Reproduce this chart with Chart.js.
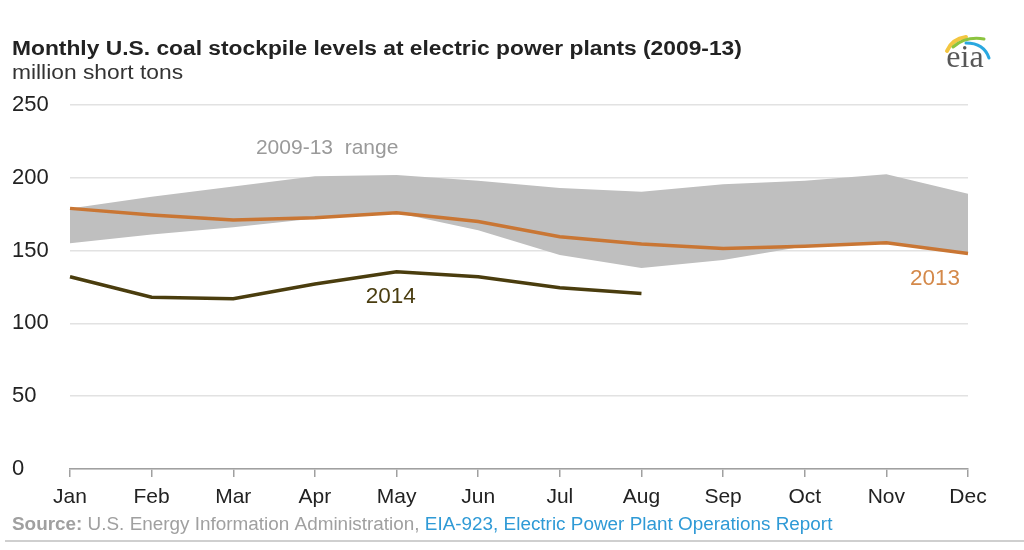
<!DOCTYPE html>
<html>
<head>
<meta charset="utf-8">
<script src="https://cdn.jsdelivr.net/npm/chart.js@4"></script>
<style>
  html, body { margin: 0; padding: 0; background: #fff; }
  #grafico { display: block; }
</style>
</head>
<body>
<canvas id="grafico" width="1024" height="550"></canvas>
<script>
const meses = ['Jan', 'Feb', 'Mar', 'Apr', 'May', 'Jun', 'Jul', 'Aug', 'Sep', 'Oct', 'Nov', 'Dec']
const faixaMin = [155, 161, 166, 172, 176, 164, 147, 138, 143.5, 153, 155.4, 148]
const faixaMax = [179, 187, 194, 201, 202, 198, 193, 190.5, 195.5, 198, 202.5, 189]
const estoque2013 = [179, 174.5, 171, 172.5, 176, 170, 159.5, 154.5, 151.5, 153, 155.4, 148]
const estoque2014 = [132, 118, 117, 127, 135.5, 132, 124.5, 120.5]
const ticksY = [0, 50, 100, 150, 200, 250]

const fonte = '"Liberation Sans", Arial, sans-serif'

// rotulos em coordenadas de dados (indice do mes, valor)
const rotulos = [
  { texto: '2009-13  range', mes: 3.15, valor: 220.5, cor: '#9a9a9a', alinha: 'center', tamanho: 21 },
  { texto: '2014', mes: 3.93, valor: 118, cor: '#4a3d10', alinha: 'center', tamanho: 22.5 },
  { texto: '2013', mes: 11, valor: 130.5, cor: '#d4894a', alinha: 'right', dx: -8, tamanho: 22.5 }
]

// texto esticado na horizontal, como no original
function escreve(ctx, str, x, y, sx) {
  ctx.save()
  ctx.translate(x, y)
  ctx.scale(sx, 1)
  ctx.fillText(str, 0, 0)
  ctx.restore()
  return ctx.measureText(str).width * sx
}

const textosExtras = {
  id: 'textosExtras',
  afterDraw(chart) {
    const ctx = chart.ctx
    const x = chart.scales.x
    const y = chart.scales.y
    ctx.save()

    // titulo e unidade
    ctx.textBaseline = 'alphabetic'
    ctx.textAlign = 'left'
    ctx.fillStyle = '#222'
    ctx.font = 'bold 20px ' + fonte
    escreve(ctx, 'Monthly U.S. coal stockpile levels at electric power plants (2009-13)', 12, 55, 1.14)
    ctx.font = '20px ' + fonte
    ctx.fillStyle = '#333'
    escreve(ctx, 'million short tons', 12, 79, 1.14)

    // rotulos das series
    ctx.textBaseline = 'middle'
    rotulos.forEach(r => {
      ctx.font = r.tamanho + 'px ' + fonte
      ctx.fillStyle = r.cor
      ctx.textAlign = r.alinha
      ctx.fillText(r.texto, x.getPixelForValue(r.mes) + (r.dx || 0), y.getPixelForValue(r.valor))
    })

    // fonte dos dados
    ctx.textBaseline = 'alphabetic'
    ctx.textAlign = 'left'
    ctx.font = 'bold 18px ' + fonte
    ctx.fillStyle = '#a0a0a0'
    let px = 12 + escreve(ctx, 'Source:', 12, 530, 1.05)
    ctx.font = '18px ' + fonte
    px += escreve(ctx, ' U.S. Energy Information Administration, ', px, 530, 1.05)
    ctx.fillStyle = '#2f9ad6'
    escreve(ctx, 'EIA-923, Electric Power Plant Operations Report', px, 530, 1.05)

    ctx.strokeStyle = '#cfcfcf'
    ctx.lineWidth = 2
    ctx.beginPath()
    ctx.moveTo(5, 541)
    ctx.lineTo(1024, 541)
    ctx.stroke()

    // logo eia
    ctx.lineCap = 'round'
    const arcos = [
      ['#f3c640', 4, [947, 51], [952, 39], [966, 37]],
      ['#8cc43f', 3, [953, 47], [966, 36], [984, 39]],
      ['#2aa8e0', 3, [966, 43], [984, 43], [989, 58]]
    ]
    arcos.forEach(a => {
      ctx.strokeStyle = a[0]
      ctx.lineWidth = a[1]
      ctx.beginPath()
      ctx.moveTo(a[2][0], a[2][1])
      ctx.quadraticCurveTo(a[3][0], a[3][1], a[4][0], a[4][1])
      ctx.stroke()
    })
    ctx.font = '32px "Liberation Serif", "Times New Roman", serif'
    ctx.fillStyle = '#575757'
    ctx.textAlign = 'center'
    ctx.fillText('eia', 965, 67)

    ctx.restore()
  }
}

const grafico = new Chart(document.querySelector('#grafico'), {
  type: 'line',
  data: {
    labels: meses,
    datasets: [{
      label: 'min',
      data: faixaMin,
      borderWidth: 0,
      pointRadius: 0,
      fill: false,
      order: 3
    }, {
      label: '2009-13 range',
      data: faixaMax,
      borderWidth: 0,
      pointRadius: 0,
      backgroundColor: '#bfbfbf',
      fill: 0,
      order: 2
    }, {
      label: '2013',
      data: estoque2013,
      borderColor: '#c97634',
      borderWidth: 3.5,
      pointRadius: 0,
      fill: false,
      order: 1
    }, {
      label: '2014',
      data: estoque2014,
      borderColor: '#4a3d0e',
      borderWidth: 3.5,
      pointRadius: 0,
      fill: false,
      order: 0
    }]
  },
  options: {
    responsive: false,
    animation: false,
    layout: { padding: { left: 12, right: 56, top: 105, bottom: 41 } },
    plugins: {
      legend: { display: false },
      tooltip: { enabled: false }
    },
    scales: {
      x: {
        offset: false,
        afterFit: s => { s.height = 40 },
        grid: { drawOnChartArea: false, drawTicks: true, tickLength: 8, color: '#a0a0a0', lineWidth: 1.5 },
        border: { color: '#a0a0a0', width: 1.5 },
        ticks: { color: '#222', font: { family: fonte, size: 21 }, padding: 8, maxRotation: 0 }
      },
      y: {
        min: 0,
        max: 250,
        afterFit: s => { s.width = 58 },
        afterBuildTicks: s => { s.ticks = ticksY.map(v => ({ value: v })) },
        grid: { color: '#e2e2e2', lineWidth: 1.5, drawTicks: false },
        border: { display: false },
        ticks: { color: '#222', font: { family: fonte, size: 22 }, padding: 0, crossAlign: 'far' }
      }
    }
  },
  plugins: [textosExtras]
})
</script>
</body>
</html>
